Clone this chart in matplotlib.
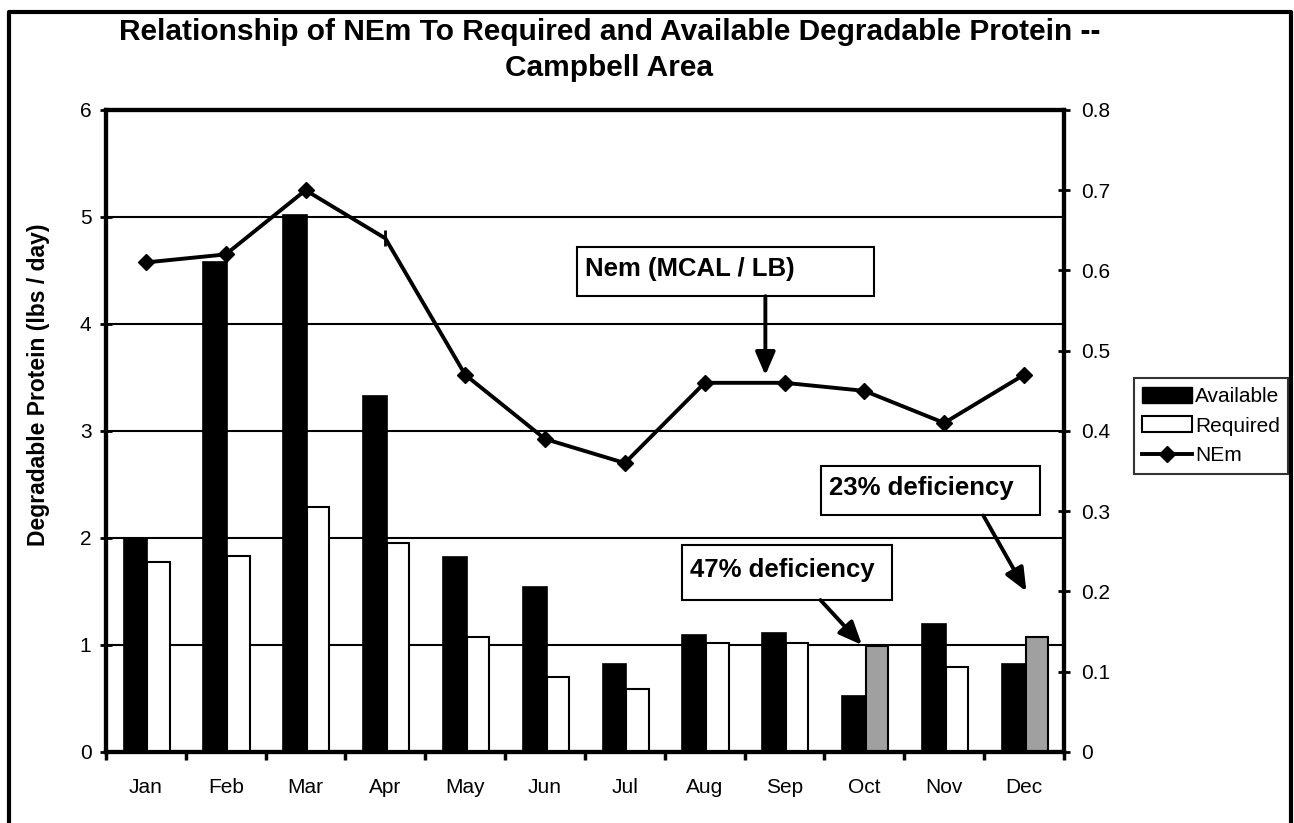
import numpy as np
import matplotlib
matplotlib.use('Agg')
from matplotlib import pyplot as plt
from matplotlib.lines import Line2D
from matplotlib.patches import Rectangle

months = ['Jan', 'Feb', 'Mar', 'Apr', 'May', 'Jun',
          'Jul', 'Aug', 'Sep', 'Oct', 'Nov', 'Dec']
available = [2.0, 4.58, 5.02, 3.33, 1.82, 1.54, 0.82, 1.09, 1.11, 0.52, 1.20, 0.82]
required = [1.78, 1.83, 2.29, 1.95, 1.07, 0.70, 0.59, 1.02, 1.02, 0.99, 0.79, 1.07]
nem = [0.61, 0.62, 0.70, 0.64, 0.47, 0.39, 0.36, 0.46, 0.46, 0.45, 0.41, 0.47]
deficient = ['Oct', 'Dec']
no_diamond = ['Apr']  # the diamond is missing at April in the original

plt.rcParams['font.family'] = ['Liberation Sans', 'DejaVu Sans']

fig = plt.figure(figsize=(12.94, 8.23), dpi=100)
ax = fig.add_axes([0.0819, 0.0863, 0.7403, 0.7801])
ax2 = ax.twinx()

x = np.arange(len(months))
req_colors = ['#a0a0a0' if m in deficient else 'white' for m in months]
ax.bar(x - 0.28, available, width=0.30, align='edge', color='black',
       edgecolor='black', linewidth=1.2, zorder=3, label='Available')
ax.bar(x + 0.02, required, width=0.28, align='edge', color=req_colors,
       edgecolor='black', linewidth=1.5, zorder=3, label='Required')

keep = [i for i, m in enumerate(months) if m not in no_diamond]
ax2.plot(x, nem, color='black', linewidth=2.8, marker='D', markersize=8.5,
         markevery=keep, label='NEm', zorder=4)
for m in no_diamond:
    i = months.index(m)
    ax2.plot(x[i], nem[i], color='black', marker='|', markersize=11,
             markeredgewidth=2, zorder=4)

ax.set_xlim(-0.5, 11.5)
ax.set_ylim(0, 6)
ax2.set_ylim(0, 0.8)
ax.set_yticks(range(7))
ax2.set_yticks(np.arange(0, 0.81, 0.1))
ax2.set_yticklabels(['0'] + ['%.1f' % v for v in np.arange(0.1, 0.81, 0.1)])
ax.set_xticks(x)
ax.set_xticklabels(months, fontsize=15)
ax.set_xticks(np.arange(-0.5, 12, 1), minor=True)
ax.tick_params(axis='x', which='major', length=0, pad=19)
ax.tick_params(axis='x', which='minor', length=6, width=2.5, direction='out')
ax.tick_params(axis='y', labelsize=15, length=9, width=2, direction='inout', pad=6)
ax2.tick_params(axis='y', labelsize=15, length=9, width=2, direction='inout', pad=8)

ax.yaxis.grid(True, color='black', linewidth=1.5)
ax.set_axisbelow(True)
for a in (ax, ax2):
    for s in a.spines.values():
        s.set_linewidth(3)

ax.set_ylabel('Degradable Protein (lbs / day)', fontsize=16.5, fontweight='bold')
ax.yaxis.set_label_coords(-0.058, 0.572)

fig.text(0.471, 0.9617, 'Relationship of NEm To Required and Available Degradable Protein --',
         ha='center', va='center', fontsize=21.5, fontweight='bold')
fig.text(0.471, 0.9168, 'Campbell Area', ha='center', va='center',
         fontsize=21.5, fontweight='bold')

# callout boxes
boxes = [
    ('Nem (MCAL / LB)', 5.4, 4.26, 3.72, 0.46, (7.76, 4.26), (7.76, 3.52)),
    ('23% deficiency', 8.46, 2.21, 2.74, 0.46, (10.49, 2.21), (11.03, 1.5)),
    ('47% deficiency', 6.71, 1.42, 2.64, 0.51, (8.45, 1.42), (8.97, 1.0)),
]
for label, bx, by, bw, bh, start, tip in boxes:
    ax.add_patch(Rectangle((bx, by), bw, bh, facecolor='white', edgecolor='black',
                           linewidth=1.5, zorder=6, clip_on=False))
    ax.text(bx + 0.1, by + bh * 0.55, label, fontsize=18.5, fontweight='bold',
            ha='left', va='center', zorder=7)
    ax.annotate('', xy=tip, xytext=start, zorder=7,
                arrowprops=dict(arrowstyle='-|>,head_length=1.4,head_width=0.6',
                                color='black', lw=2.8, shrinkA=0, shrinkB=0))

handles = [
    Rectangle((0, 0), 1, 1, facecolor='black', edgecolor='black'),
    Rectangle((0, 0), 1, 1, facecolor='white', edgecolor='black', linewidth=1.5),
    Line2D([], [], color='black', linewidth=2.8, marker='D', markersize=8.5),
]
leg = fig.legend(handles, ['Available', 'Required', 'NEm'], loc='center left',
                 bbox_to_anchor=(0.876, 0.4824), fontsize=15, frameon=True,
                 fancybox=False, edgecolor='black', handlelength=2.4,
                 handleheight=0.8, handletextpad=0.15, borderpad=0.4,
                 labelspacing=0.5, borderaxespad=0)
leg.get_frame().set_linewidth(1.5)

# outer border of the chart area
fig.add_artist(Line2D([0.0073, 0.0073, 0.9977, 0.9977], [0.0, 0.9854, 0.9854, 0.0],
                      transform=fig.transFigure, color='black', linewidth=3))

fig.savefig('out.png', dpi=100)
